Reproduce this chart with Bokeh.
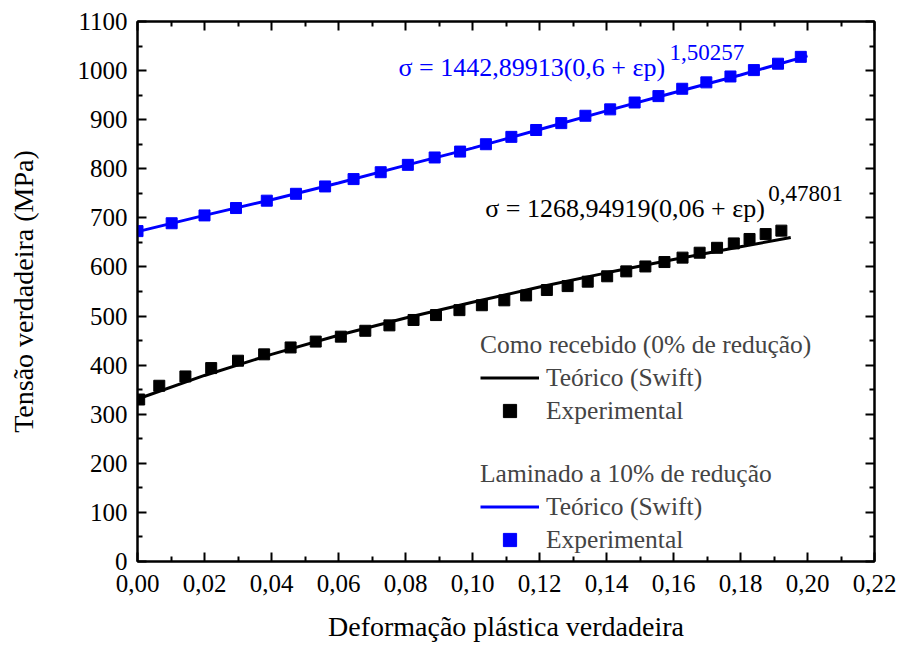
from bokeh.plotting import figure
from bokeh.models import (Range1d, LinearAxis, FixedTicker, Legend, LegendItem, Label)
from bokeh.embed import file_html
from bokeh.resources import INLINE

# ---- data ----
x_ticks = [0.00, 0.02, 0.04, 0.06, 0.08, 0.10, 0.12, 0.14, 0.16, 0.18, 0.20, 0.22]
x_tick_labels = ["0,00", "0,02", "0,04", "0,06", "0,08", "0,10", "0,12", "0,14", "0,16", "0,18", "0,20", "0,22"]
x_minor = [0.01, 0.03, 0.05, 0.07, 0.09, 0.11, 0.13, 0.15, 0.17, 0.19, 0.21]
y_ticks = [0, 100, 200, 300, 400, 500, 600, 700, 800, 900, 1000, 1100]
y_minor = [50, 150, 250, 350, 450, 550, 650, 750, 850, 950, 1050]

exp0_x = [0.0005, 0.0065, 0.0143, 0.022, 0.030, 0.0378, 0.0457, 0.0532, 0.0607, 0.068,
          0.0752, 0.0824, 0.0891, 0.0961, 0.1028, 0.1095, 0.116, 0.1222, 0.1284, 0.1344,
          0.1402, 0.1459, 0.1516, 0.1573, 0.1627, 0.1678, 0.173, 0.178, 0.1827, 0.1875, 0.1922]
exp0_y = [330, 358, 377, 394, 409, 422, 436, 448, 458, 470,
          481, 492, 502, 512, 522, 532, 542, 553, 561, 570,
          581, 591, 601, 610, 619, 629, 639, 648, 657, 667, 674]

theo0_x = [0.0, 0.02, 0.04, 0.06, 0.08, 0.10, 0.12, 0.14, 0.16, 0.18, 0.195]
theo0_y = [331, 379, 422, 461, 496, 528, 559, 588, 615, 641, 660]

exp10_x = [0.0, 0.0102, 0.020, 0.0294, 0.0386, 0.0473, 0.056, 0.0645, 0.0726, 0.0807,
           0.0887, 0.0963, 0.104, 0.1116, 0.119, 0.1265, 0.1337, 0.1411, 0.1484, 0.1555,
           0.1626, 0.1698, 0.177, 0.184, 0.1912, 0.198]
exp10_y = [673, 689, 705, 720, 735, 749, 764, 779, 793, 808,
           823, 835, 850, 865, 879, 893, 908, 921, 935, 948,
           963, 976, 988, 1001, 1014, 1028]

theo10_x = [0.0, 0.02, 0.04, 0.06, 0.08, 0.10, 0.12, 0.14, 0.16, 0.18, 0.20]
theo10_y = [672, 705, 737, 771, 807, 842, 880, 918, 955, 991, 1030]

FONT = "'Liberation Serif', 'Times New Roman', serif"
BLUE = "#0000FF"

p = figure(width=899, height=646, output_backend="svg", toolbar_location=None,
           x_range=Range1d(0, 0.22), y_range=Range1d(0, 1100),
           min_border_left=137, min_border_right=25, min_border_top=21, min_border_bottom=85)
p.xgrid.visible = False
p.ygrid.visible = False
p.outline_line_color = "black"
p.outline_line_width = 2
p.background_fill_color = "white"
p.border_fill_color = "white"

xt = FixedTicker(ticks=x_ticks, minor_ticks=x_minor)
yt = FixedTicker(ticks=y_ticks, minor_ticks=y_minor)

def style_axis(ax, show_labels):
    ax.axis_line_width = 2
    ax.axis_line_color = "black"
    ax.major_tick_in = 9
    ax.major_tick_out = 0
    ax.minor_tick_in = 5
    ax.minor_tick_out = 0
    ax.major_tick_line_width = 2
    ax.minor_tick_line_width = 2
    ax.major_label_text_font = FONT
    if show_labels:
        ax.major_label_text_color = "black"
        ax.major_label_text_font_size = "25px"
    else:
        ax.major_label_text_color = None
        ax.major_label_text_font_size = "1px"
        ax.major_label_standoff = 0

xa = p.xaxis[0]
xa.ticker = xt
xa.major_label_overrides = {t: l for t, l in zip(x_ticks, x_tick_labels)}
style_axis(xa, True)
xa.major_label_standoff = 13
xa.axis_label = "Deformação plástica verdadeira"
xa.axis_label_text_font = FONT
xa.axis_label_text_font_size = "28px"
xa.axis_label_text_font_style = "normal"
xa.axis_label_text_color = "black"
xa.axis_label_standoff = 16

ya = p.yaxis[0]
ya.ticker = yt
style_axis(ya, True)
ya.major_label_standoff = 10
ya.axis_label = "Tensão verdadeira (MPa)"
ya.axis_label_text_font = FONT
ya.axis_label_text_font_size = "28px"
ya.axis_label_text_font_style = "normal"
ya.axis_label_text_color = "black"
ya.axis_label_standoff = 36

top = LinearAxis(ticker=FixedTicker(ticks=x_ticks, minor_ticks=x_minor))
style_axis(top, False)
p.add_layout(top, "above")
right = LinearAxis(ticker=FixedTicker(ticks=y_ticks, minor_ticks=y_minor))
style_axis(right, False)
p.add_layout(right, "right")

l0 = p.line(theo0_x, theo0_y, line_color="black", line_width=3)
s0 = p.scatter(exp0_x, exp0_y, marker="square", size=11, fill_color="black", line_color="black")
l10 = p.line(theo10_x, theo10_y, line_color=BLUE, line_width=3)
s10 = p.scatter(exp10_x, exp10_y, marker="square", size=11, fill_color=BLUE, line_color=BLUE)

def make_legend(title, items, loc):
    lg = Legend(items=items, title=title, location=loc)
    lg.title_text_font = FONT
    lg.title_text_font_size = "25.5px"
    lg.title_text_font_style = "normal"
    lg.title_standoff = 1
    lg.label_text_font = FONT
    lg.label_text_font_size = "25.5px"
    lg.label_standoff = 7
    lg.glyph_width = 59
    lg.glyph_height = 33
    lg.label_height = 33
    lg.spacing = 0
    lg.padding = 0
    lg.margin = 0
    lg.background_fill_alpha = 0
    lg.border_line_alpha = 0
    return lg

leg0 = make_legend("Como recebido (0% de redução)",
                   [LegendItem(label="Teórico (Swift)", renderers=[l0]),
                    LegendItem(label="Experimental", renderers=[s0])], (343, 134))
leg10 = make_legend("Laminado a 10% de redução",
                    [LegendItem(label="Teórico (Swift)", renderers=[l10]),
                     LegendItem(label="Experimental", renderers=[s10])], (343, 5))
p.add_layout(leg0, "center")
p.add_layout(leg10, "center")

# equations
p.add_layout(Label(x=0.1038, y=719, text="σ = 1268,94919(0,06 + εp)", text_font=FONT,
                   text_font_size="26px", text_color="black", text_baseline="alphabetic"))
p.add_layout(Label(x=0.1883, y=750, text="0,47801", text_font=FONT,
                   text_font_size="23px", text_color="black", text_baseline="alphabetic"))
p.add_layout(Label(x=0.0779, y=1006, text="σ = 1442,89913(0,6 + εp)", text_font=FONT,
                   text_font_size="26px", text_color=BLUE, text_baseline="alphabetic"))
p.add_layout(Label(x=0.1588, y=1036, text="1,50257", text_font=FONT,
                   text_font_size="23px", text_color=BLUE, text_baseline="alphabetic"))

open("out.html", "w").write(file_html(p, INLINE))
